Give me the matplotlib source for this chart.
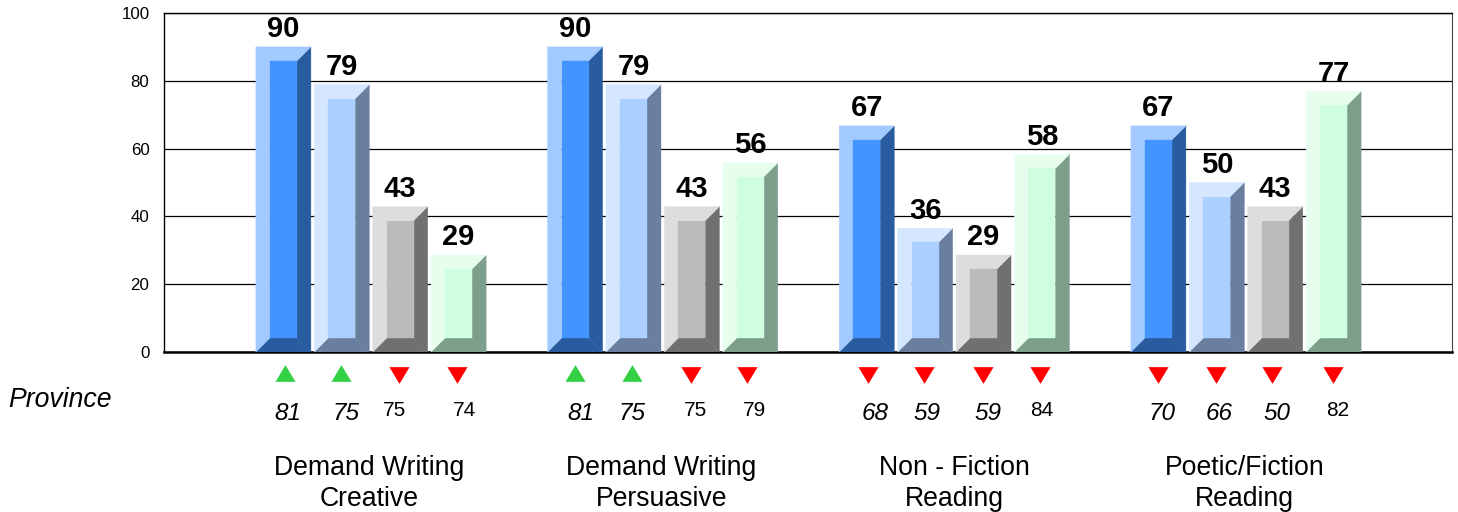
import matplotlib
matplotlib.use("Agg")
import matplotlib.pyplot as plt
from matplotlib.patches import Polygon
from matplotlib.transforms import blended_transform_factory

plt.rcParams['font.family'] = ['Liberation Sans', 'DejaVu Sans']

categories = ["Demand Writing\nCreative", "Demand Writing\nPersuasive",
              "Non - Fiction\nReading", "Poetic/Fiction\nReading"]
school_values = [[90, 78.9, 42.9, 28.6], [90, 78.9, 42.9, 55.8], [66.7, 36.5, 28.6, 58.3], [66.7, 50, 42.9, 76.9]]
province_values = [[81, 75, 75, 74], [81, 75, 75, 79], [68, 59, 59, 84], [70, 66, 50, 82]]
province_italic = [[1, 1, 0, 0], [1, 1, 0, 0], [1, 1, 1, 0], [1, 1, 1, 0]]
y_ticks = [0, 20, 40, 60, 80, 100]

# style: (face, light bevel, dark bevel) per series
palette = [("#4394FF", "#A2CAFF", "#285C9F"),
           ("#ABCFFF", "#D5E7FF", "#6A7F9F"),
           ("#BBBBBB", "#DDDDDD", "#707070"),
           ("#CEFDE0", "#E7FEEF", "#7C9E8A")]

W, H = 1458, 512
L, R, T, B = 164, 1452, 13, 352
GROUP = 291.67          # px per group
X0 = 371                # px centre of first group
PX = 1 / GROUP
BAR_W = 55 * PX
STEP = 58.4 * PX
DX = 14 * PX
DY = 14 * 100 / (B - T)

UP = [(-1, -0.83), (1, -0.83), (0, 0.83), (-1, -0.83)]
DOWN = [(-1, 0.83), (1, 0.83), (0, -0.83), (-1, 0.83)]

fig = plt.figure(figsize=(W / 100, H / 100), dpi=100, facecolor="white")
ax = fig.add_axes([L / W, 1 - B / H, (R - L) / W, (B - T) / H])
ax.set_xlim((L - X0) * PX, (R - X0) * PX)
ax.set_ylim(0, 100)
ax.set_xticks([])
ax.set_yticks(y_ticks)
ax.tick_params(axis="y", length=0, pad=10.5, labelsize=12.2)
ax.grid(axis="y", color="black", lw=0.9, zorder=0)
ax.set_axisbelow(True)
for s in ["top", "left"]:
    ax.spines[s].set_linewidth(1.0)
ax.spines["right"].set_linewidth(0.8)
ax.spines["right"].set_color("#444444")
ax.spines["bottom"].set_linewidth(1.8)

# nudges (px) of marker and province labels relative to bar centre
marker_dx = [[1.5, -1, -1.5, -2], [-0.5, -1, -0.5, -3], [1, -1, -1, -2], [0, -1, -3, -1]]
label_dx = [[4, 4, -6, 6], [6, -1, 4, 4], [8, 2, 4, 0], [4, 2, 2, 4]]
cat_dx = [-1.5, -1.5, 0, -1.5]

tx = blended_transform_factory(ax.transData, fig.transFigure)
for g, vals in enumerate(school_values):
    for i, v in enumerate(vals):
        x0 = g + (i - 1.5) * STEP - BAR_W / 2
        x1 = x0 + BAR_W
        face, light, dark = palette[i]
        ix0, ix1, iy0, iy1 = x0 + DX, x1 - DX, DY, v - DY
        panels = [
            ([(x0, 0), (x1, 0), (ix1, iy0), (ix0, iy0)], dark),
            ([(x1, 0), (x1, v), (ix1, iy1), (ix1, iy0)], dark),
            ([(x0, 0), (ix0, iy0), (ix0, iy1), (x0, v)], light),
            ([(x0, v), (ix0, iy1), (ix1, iy1), (x1, v)], light),
            ([(ix0, iy0), (ix1, iy0), (ix1, iy1), (ix0, iy1)], face),
        ]
        for pts, c in panels:
            ax.add_patch(Polygon(pts, closed=True, facecolor=c, edgecolor=c, lw=0.3, zorder=3))
        cx = (x0 + x1) / 2
        ax.annotate(f"{v:.0f}", (cx, v), xytext=(0, 2.6), textcoords="offset points",
                    ha="center", va="bottom", fontsize=21, fontweight="bold", zorder=5,
                    annotation_clip=False)
        p = province_values[g][i]
        up = v > p
        ax.plot(cx + marker_dx[g][i] * PX, 1 - (372.5 if up else 374.5) / H, transform=tx,
                clip_on=False, marker=UP if up else DOWN, ms=14.5, mew=0,
                color="#33D044" if up else "#FF0000", ls="none")
        it = province_italic[g][i]
        ax.text(cx + label_dx[g][i] * PX, 1 - (413 if it else 410) / H, str(p), transform=tx,
                ha="center", va="center", fontsize=17.5 if it else 15,
                fontstyle="italic" if it else "normal")
    ax.text(g + cat_dx[g] * PX, 1 - 483.5 / H, categories[g], transform=tx, ha="center", va="center",
            fontsize=19.2, linespacing=1.24)

fig.text(8 / W, 1 - 400 / H, "Province", fontsize=19.2, fontstyle="italic", ha="left", va="center")
fig.savefig("out.png", dpi=100, facecolor="white")
